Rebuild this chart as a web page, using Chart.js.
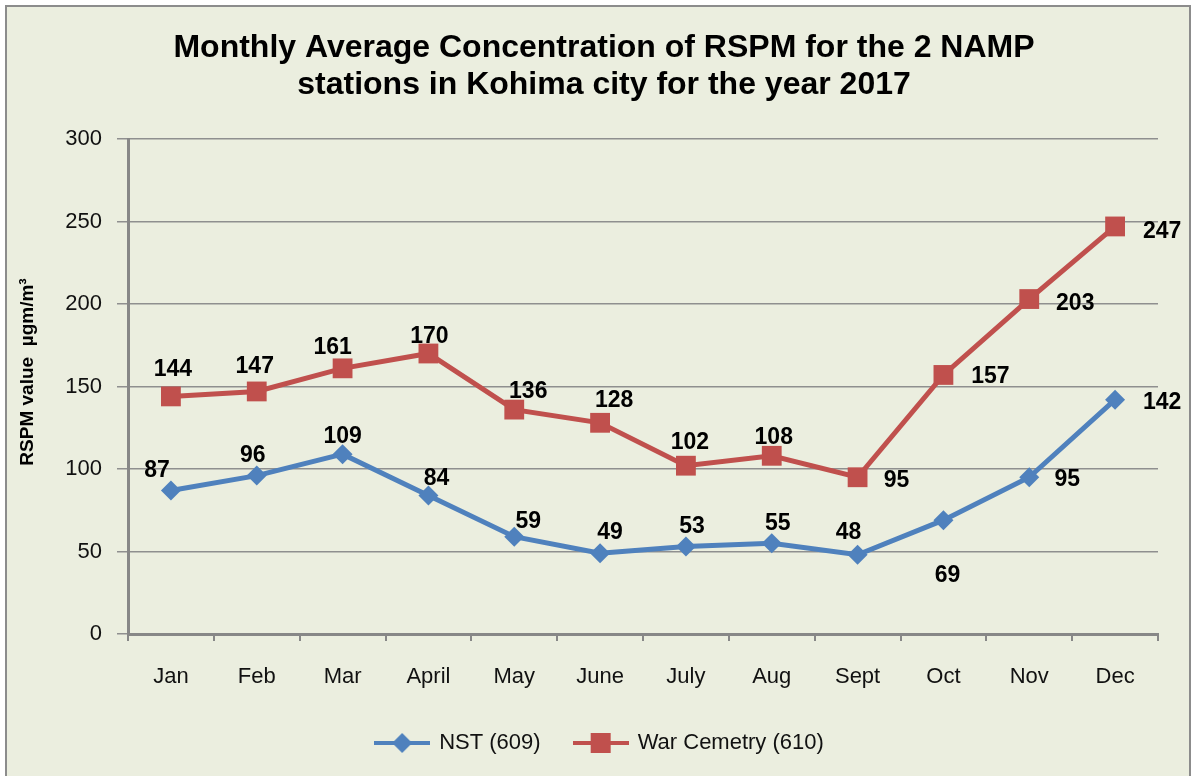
<!DOCTYPE html>
<html lang="en">
<head>
<meta charset="UTF-8">
<title>Monthly Average Concentration of RSPM - Kohima 2017</title>
<script src="https://cdn.jsdelivr.net/npm/chart.js"></script>
<style>
  body { margin: 0; background: #ffffff; overflow: hidden; }
  #frame { position: absolute; left: 5px; top: 5px; width: 1186px; height: 790px; box-sizing: border-box;
           border: 2px solid #8c8c8c; background: #ebeedf; }
  #wrap { position: absolute; left: 0; top: 0; width: 1192px; height: 776px; }
</style>
</head>
<body>
<div id="frame"></div>
<div id="wrap"><canvas id="rspmChart"></canvas></div>

<script>
// data
const months = ['Jan', 'Feb', 'Mar', 'April', 'May', 'June', 'July', 'Aug', 'Sept', 'Oct', 'Nov', 'Dec'];
const nstValues = [87, 96, 109, 84, 59, 49, 53, 55, 48, 69, 95, 142];
const warCemeteryValues = [144, 147, 161, 170, 136, 128, 102, 108, 95, 157, 203, 247];
const seriesNames = ['NST (609)', 'War Cemetry (610)'];
const titleLines = ['Monthly Average Concentration of RSPM for the 2 NAMP', 'stations in Kohima city for the year 2017'];
const yAxisTitle = 'RSPM value  \u00b5gm/m\u00b3';

// where each value label sits relative to its point (px)
const nstLabelShift = [[-14, -20], [-4, -20], [0, -17], [8, -17], [14, -15], [10, -20], [6, -20], [6, -20], [-9, -22], [4, 56], [38, 2], [47, 3]];
const warLabelShift = [[2, -27], [-2, -25], [-10, -21], [1, -17], [14, -18], [14, -22], [4, -23], [2, -18], [39, 3], [47, 2], [46, 5], [47, 5]];

const blue = '#4f81bd';
const red = '#c0504d';
const font = '"Liberation Sans", Arial, sans-serif';

// legend symbol: short line with the marker on it
function legendSymbol(color, shape) {
    const c = document.createElement('canvas');
    c.width = 56; c.height = 24;
    const g = c.getContext('2d');
    g.strokeStyle = color;
    g.lineWidth = 4;
    g.beginPath(); g.moveTo(0, 12); g.lineTo(56, 12); g.stroke();
    g.fillStyle = color;
    if (shape === 'diamond') {
        g.beginPath(); g.moveTo(28, 2); g.lineTo(38, 12); g.lineTo(28, 22); g.lineTo(18, 12); g.closePath(); g.fill();
    } else {
        g.fillRect(18, 2, 20, 20);
    }
    return c;
}
const legendIcons = [legendSymbol(blue, 'diamond'), legendSymbol(red, 'square')];

const textPlugin = {
    id: 'textPlugin',
    afterDatasetsDraw(chart) {
        const ctx = chart.ctx;
        ctx.save();
        ctx.fillStyle = '#000';
        ctx.textAlign = 'center';
        ctx.textBaseline = 'middle';
        ctx.font = 'bold 23px ' + font;
        const shifts = [nstLabelShift, warLabelShift];
        chart.data.datasets.forEach((ds, di) => {
            const meta = chart.getDatasetMeta(di);
            meta.data.forEach((pt, i) => {
                const s = shifts[di][i];
                ctx.fillText(String(ds.data[i]), pt.x + s[0], pt.y + s[1]);
            });
        });
        ctx.restore();
    },
    afterDraw(chart) {
        const ctx = chart.ctx;
        ctx.save();
        ctx.fillStyle = '#000';
        ctx.textAlign = 'center';
        ctx.textBaseline = 'middle';
        ctx.font = 'bold 32px ' + font;
        ctx.fillText(titleLines[0], 604, 48);
        ctx.fillText(titleLines[1], 604, 85);
        ctx.translate(28, 372);
        ctx.rotate(-Math.PI / 2);
        ctx.font = 'bold 19px ' + font;
        ctx.fillText(yAxisTitle, 0, 0);
        ctx.restore();
    }
};

new Chart(document.getElementById('rspmChart'), {
    type: 'line',
    data: {
        labels: months,
        datasets: [
            {
                label: seriesNames[0],
                data: nstValues,
                borderColor: blue,
                backgroundColor: blue,
                borderWidth: 5,
                pointStyle: 'rectRot',
                pointRadius: 10,
                pointBorderWidth: 0,
                tension: 0
            },
            {
                label: seriesNames[1],
                data: warCemeteryValues,
                borderColor: red,
                backgroundColor: red,
                borderWidth: 5,
                pointStyle: 'rect',
                pointRadius: 14,
                pointBorderWidth: 0,
                tension: 0
            }
        ]
    },
    options: {
        responsive: true,
        maintainAspectRatio: false,
        animation: false,
        events: [],
        layout: { padding: { left: 42, right: 34, top: 139, bottom: 12 } },
        plugins: {
            title: { display: false },
            tooltip: { enabled: false },
            legend: {
                position: 'bottom',
                labels: {
                    usePointStyle: true,
                    pointStyleWidth: 52,
                    padding: 34,
                    color: '#111',
                    font: { family: font, size: 22 },
                    generateLabels(chart) {
                        return chart.data.datasets.map((ds, i) => ({
                            text: ds.label,
                            pointStyle: legendIcons[i],
                            fillStyle: ds.borderColor,
                            strokeStyle: ds.borderColor,
                            lineWidth: 0,
                            datasetIndex: i,
                            fontColor: '#111'
                        }));
                    }
                }
            }
        },
        scales: {
            x: {
                offset: true,
                grid: { offset: true, drawOnChartArea: false, drawTicks: true, tickLength: 7, color: '#878787', lineWidth: 2 },
                border: { color: '#878787', width: 3 },
                ticks: { color: '#111', font: { family: font, size: 22 }, padding: 23, maxRotation: 0 },
                afterFit(s) { s.height = 64; }
            },
            y: {
                min: 0,
                max: 300,
                ticks: { stepSize: 50, color: '#111', font: { family: font, size: 22 }, padding: 15 },
                grid: { color: '#8f8f8f', lineWidth: 1.5, tickLength: 11 },
                border: { color: '#878787', width: 3 },
                afterFit(s) { s.width = 86; }
            }
        }
    },
    plugins: [textPlugin]
});
</script>
</body>
</html>
